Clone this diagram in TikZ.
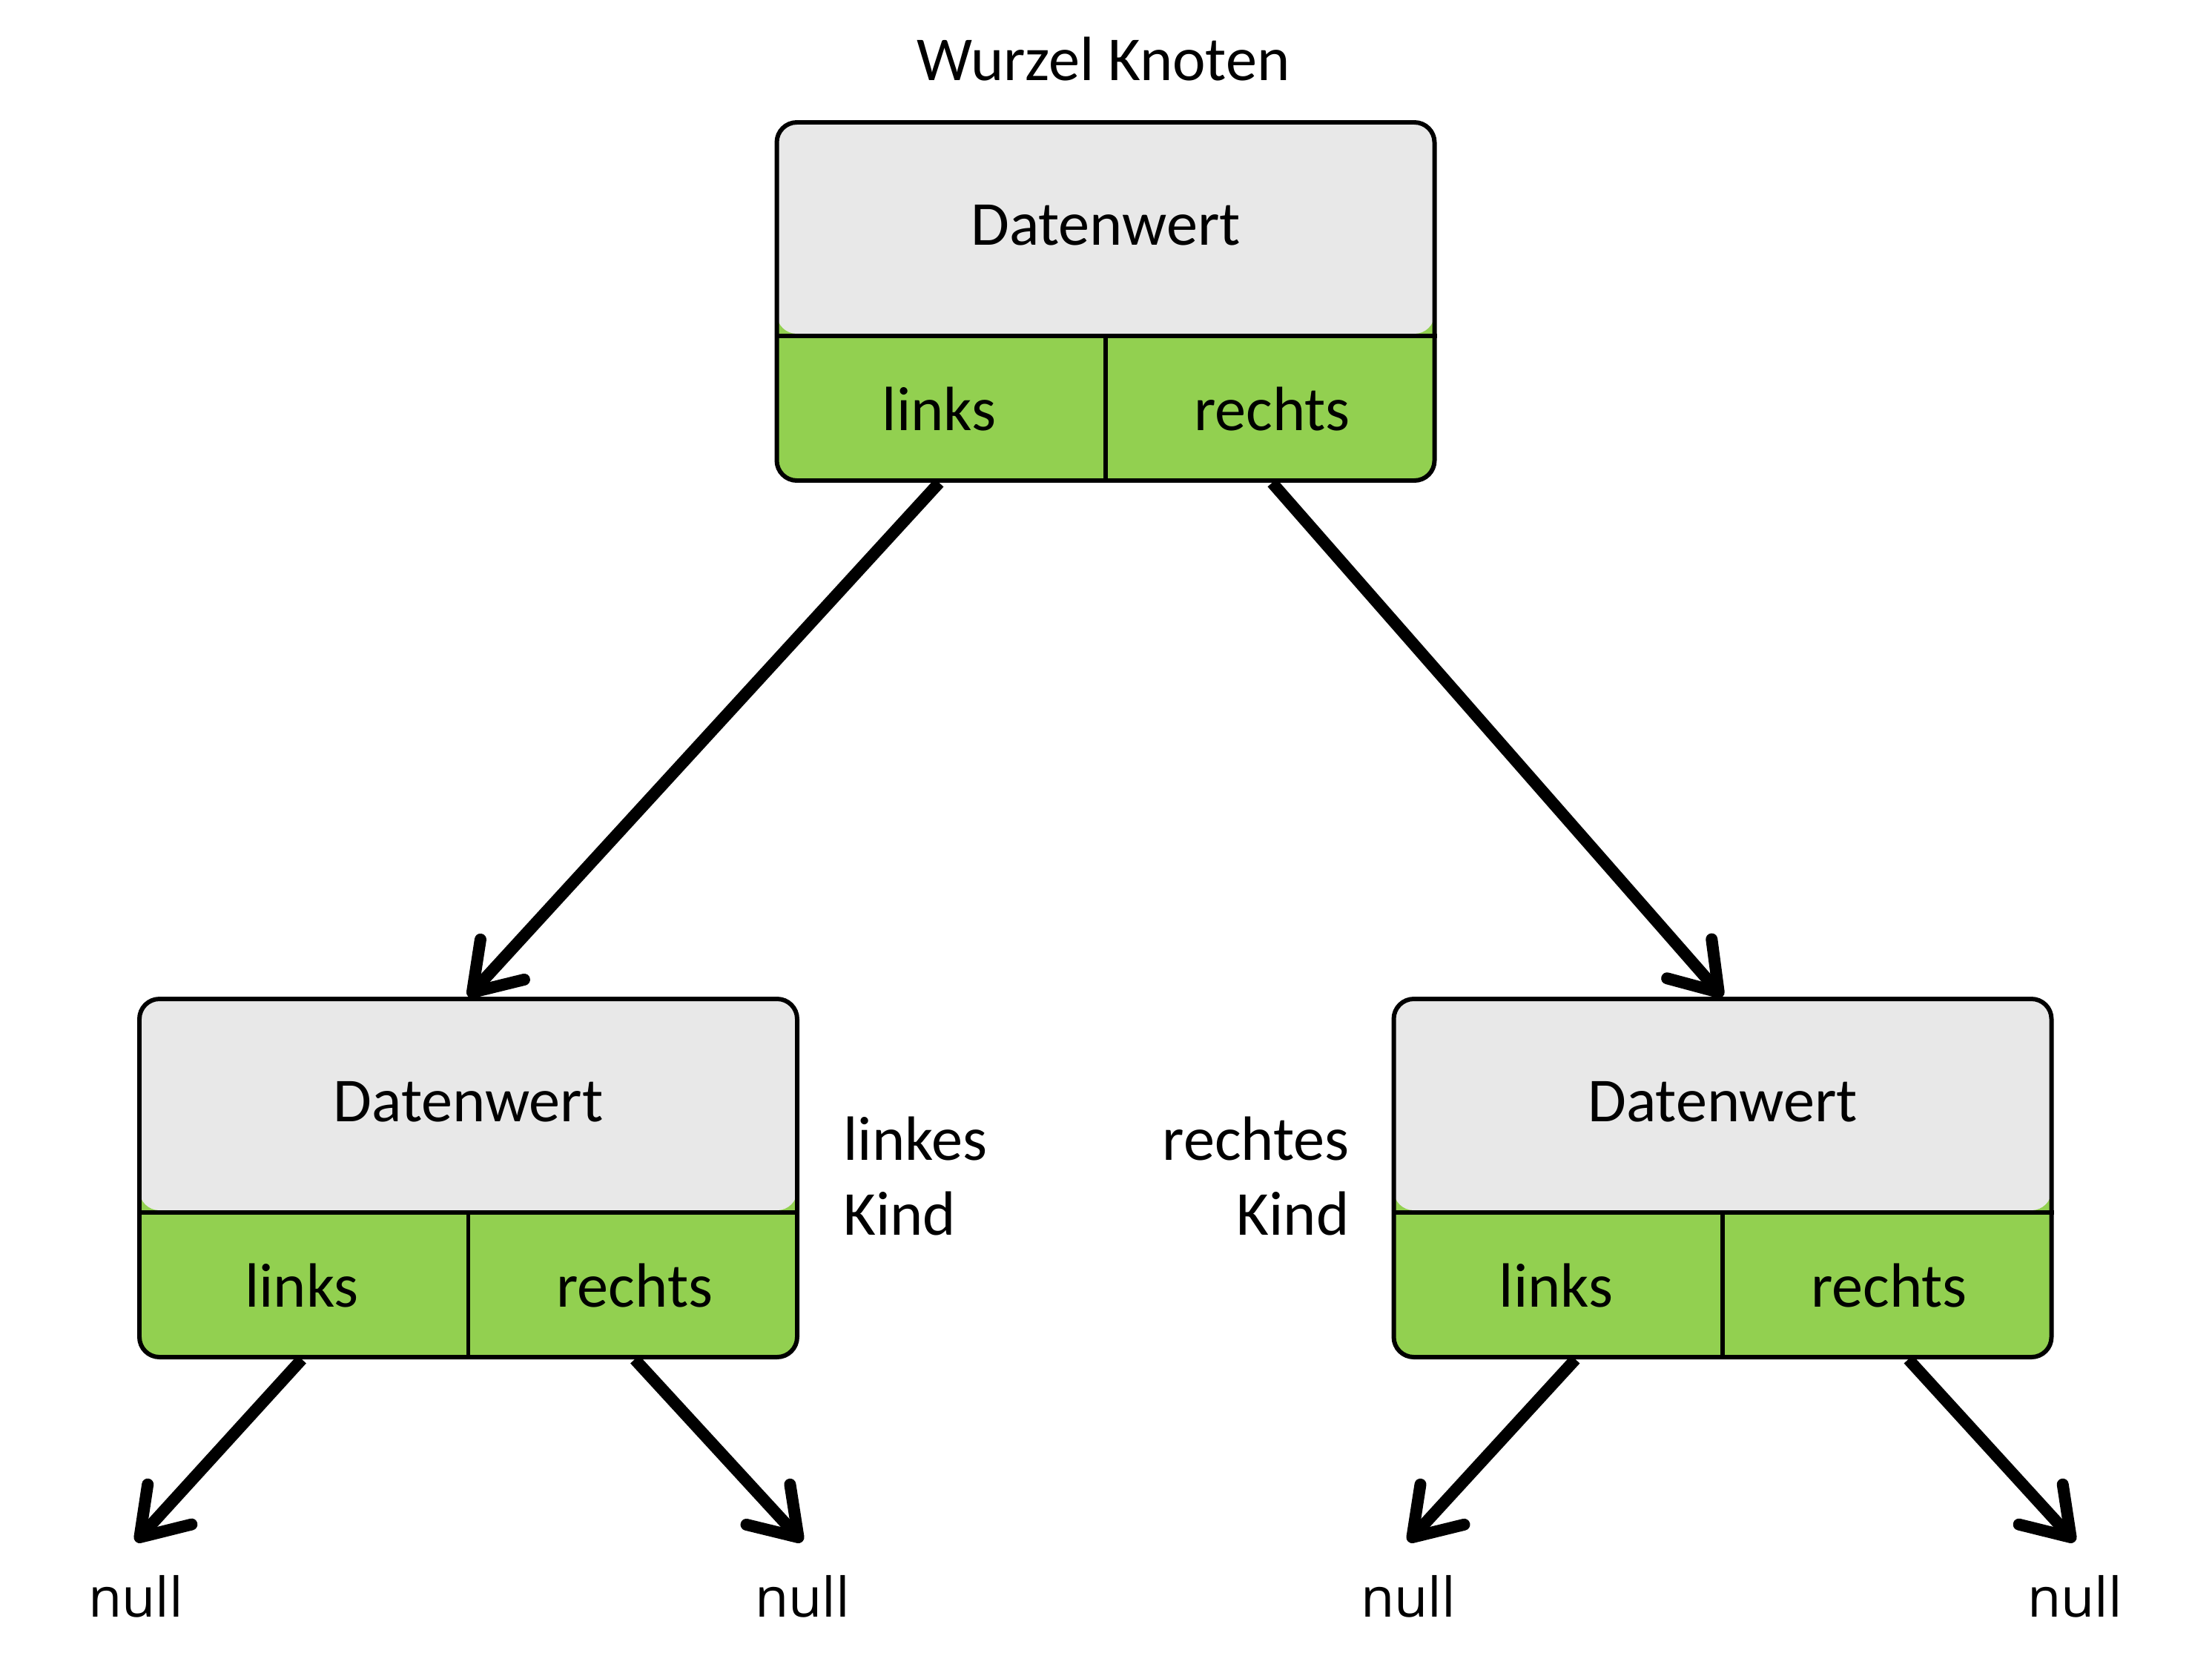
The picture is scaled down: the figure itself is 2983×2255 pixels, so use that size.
\documentclass[tikz,border=0pt]{standalone}
\usepackage{fontspec}
\setmainfont{Carlito}
\newfontfamily\leerfont{Open Sans}
\usetikzlibrary{arrows.meta,calc}
\definecolor{grau}{HTML}{E8E8E8}
\definecolor{gruen}{HTML}{92D050}

% one tree node: name, centre
\newcommand{\knoten}[2]{%
	\node[kasten] (#1) at (#2) {};
	\node (#1-d) at ($(#1.north)+(0,142)$) {Datenwert};
	\node (#1-l) at ($(#1.south west)+(222,-99)$) {links};
	\node (#1-r) at ($(#1.south east)+(-222,-99)$) {rechts};
	\draw[rand] ($(#1.south west)+(0,-198)$) -- ($(#1.south east)+(0,-198)$);
	\draw[rand] ($(#1.south)+(0,-198)$) -- (#1.south);
}

\begin{document}
\begin{tikzpicture}[x=0.1mm,y=-0.1mm,line cap=butt,line join=miter,
		font=\fontsize{24}{28.5}\selectfont,
		rand/.style={line width=1.7pt},
		kasten/.style={rand,draw,fill=gruen,rounded corners=2.7mm,
			minimum width=88.7mm,minimum height=48.3mm,
			path picture={\fill[grau] (path picture bounding box.north west)
				rectangle ($(path picture bounding box.south east)+(0,-198)$);}},
		pfeil/.style={line width=1.6mm,-{Straight Barb[length=6mm,width=8mm,round]}},
		leer/.style={font=\leerfont\fontsize{21}{25}\selectfont,inner ysep=4.5mm}
	]
	\useasboundingbox (0,0) rectangle (2983,2255);
	\node (titel) at (1488,80) {Wurzel Knoten};
	\knoten{w}{1491,406.5}
	\knoten{a}{631.5,1588.5}
	\knoten{b}{2323,1588.5}
	\node[anchor=west,align=left] (lk) at (1125,1586) {linkes\\Kind};
	\node[anchor=east,align=right] (rk) at (1832,1586) {rechtes\\Kind};
	% null leaves
	\node[leer] (n1) at (183,2153) {null};
	\node[leer] (n2) at (1082,2153) {null};
	\node[leer] (n3) at (1899,2153) {null};
	\node[leer] (n4) at (2798,2153) {null};
	\draw[pfeil] (w-l |- w.south) -- (a.north);
	\draw[pfeil] (w-r |- w.south) -- (b.north);
	\draw[pfeil] (a-l |- a.south) -- (n1.north);
	\draw[pfeil] (a-r |- a.south) -- (n2.north);
	\draw[pfeil] ([xshift=2.6mm]b-l |- b.south) -- (n3.north);
	\draw[pfeil] ([xshift=2.6mm]b-r |- b.south) -- (n4.north);
\end{tikzpicture}
\end{document}
